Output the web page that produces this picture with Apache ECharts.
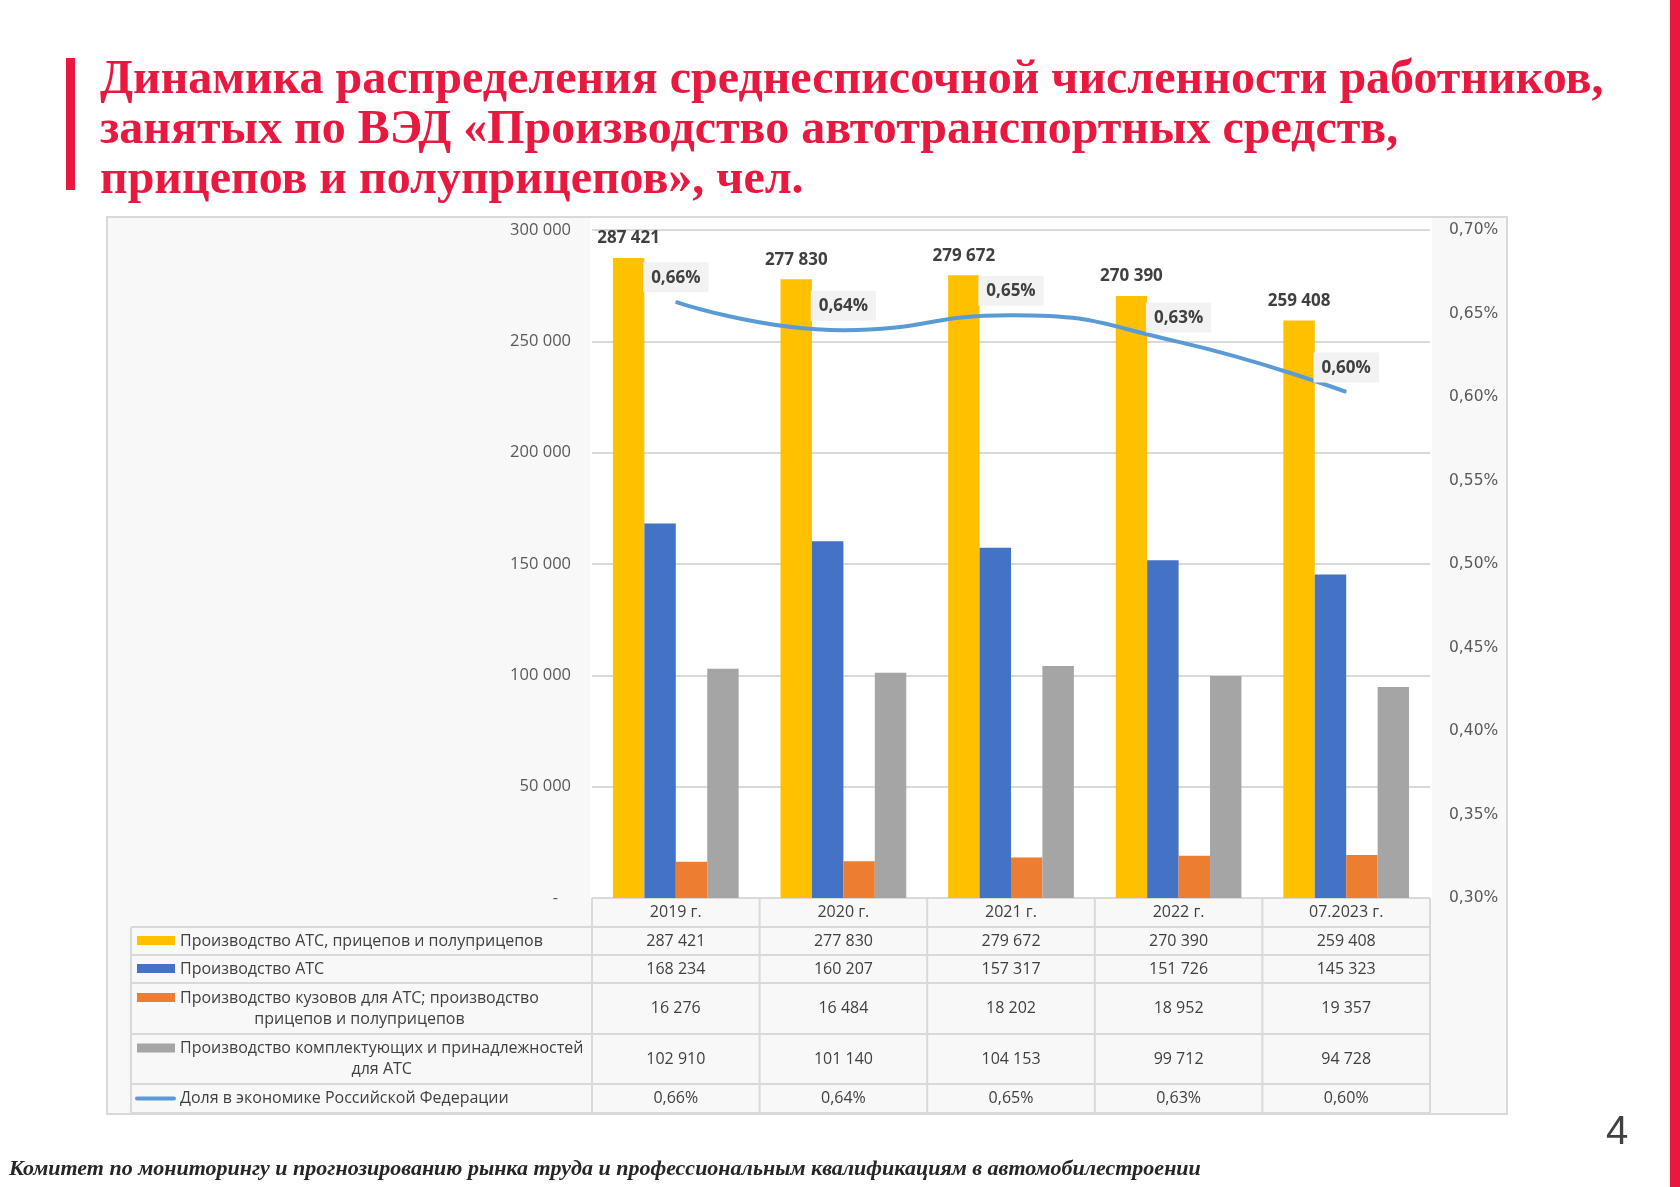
<!DOCTYPE html>
<html>
<head>
<meta charset="utf-8">
<script src="https://cdn.jsdelivr.net/npm/echarts@6/dist/echarts.min.js"></script>
<style>
html,body{margin:0;padding:0;background:#fff;}
#main{width:1680px;height:1187px;}
</style>
</head>
<body>
<div id="main"></div>
<script>
// ---------- DATA ----------
const categories = ['2019 г.', '2020 г.', '2021 г.', '2022 г.', '07.2023 г.'];
const nameTotal = 'Производство АТС, прицепов и полуприцепов';
const nameAts = 'Производство АТС';
const nameBodies = 'Производство кузовов для АТС; производство\nприцепов и полуприцепов';
const nameParts = 'Производство комплектующих и принадлежностей\nдля АТС';
const nameShare = 'Доля в экономике Российской Федерации';
const totalValues = [287421, 277830, 279672, 270390, 259408];
const atsValues = [168234, 160207, 157317, 151726, 145323];
const bodiesValues = [16276, 16484, 18202, 18952, 19357];
const partsValues = [102910, 101140, 104153, 99712, 94728];
const shareValues = [0.657, 0.640, 0.649, 0.633, 0.603]; // % of economy
const titleText = 'Динамика распределения среднесписочной численности работников,\nзанятых по ВЭД «Производство автотранспортных средств,\nприцепов и полуприцепов», чел.';
const footerText = 'Комитет по мониторингу и прогнозированию рынка труда и профессиональным квалификациям в автомобилестроении';
const pageNumber = '4';

// ---------- LAYOUT ----------
const RED = '#E8183F';
const TXT = '#404040';
const GRID_L = 592, GRID_R = 1430, GRID_T = 230, GRID_B = 898;
const colW = (GRID_R - GRID_L) / categories.length;
const rowLines = [898, 927, 955, 983, 1034, 1084, 1113];
const tableLeft = 131;
const COLORS = {total:'#FFC000', ats:'#4472C4', bodies:'#ED7D31', parts:'#A5A5A5', share:'#5B9BD5'};

function fmtNum(v){ return String(v).replace(/\B(?=(\d{3})+(?!\d))/g, ' '); }
function fmtPct(v){ return v.toFixed(2).replace('.', ',') + '%'; }

const measureCtx = document.createElement('canvas').getContext('2d');
function textW(t, font){ measureCtx.font = font; return measureCtx.measureText(t).width; }

const tableFont = '16px "Open Sans"';
const rows = [
  {name: nameTotal, key: 'rect', color: COLORS.total, vals: totalValues.map(fmtNum)},
  {name: nameAts, key: 'rect', color: COLORS.ats, vals: atsValues.map(fmtNum)},
  {name: nameBodies, key: 'rect', color: COLORS.bodies, vals: bodiesValues.map(fmtNum)},
  {name: nameParts, key: 'rect', color: COLORS.parts, vals: partsValues.map(fmtNum)},
  {name: nameShare, key: 'line', color: COLORS.share, vals: shareValues.map(fmtPct)}
];

const graphics = [];
// frame
graphics.push({type:'rect', z:-10, shape:{x:107, y:217, width:1400, height:897}, style:{fill:'#F8F8F8', stroke:'#D9D9D9', lineWidth:2}});
// white plot background
graphics.push({type:'rect', z:-9, shape:{x:590, y:218, width:842, height:GRID_B-218}, style:{fill:'#FFFFFF'}});
// red bars
graphics.push({type:'rect', shape:{x:66, y:58, width:9, height:132}, style:{fill:RED}});
graphics.push({type:'rect', shape:{x:1670, y:0, width:10, height:1187}, style:{fill:RED}});
// title
graphics.push({type:'text', left:100, top:56, style:{text:titleText, fill:RED, font:'bold 48px "Liberation Serif"', lineHeight:50}});
// footer
graphics.push({type:'text', left:9, top:1158, style:{text:footerText, fill:'#262626', font:'italic bold 22px "Liberation Serif"'}});
// page number
graphics.push({type:'text', left:1606, top:1113, style:{text:pageNumber, fill:TXT, font:'40px "Liberation Sans"'}});

// table lines
const lineStyle = {stroke:'#D9D9D9', lineWidth:2};
graphics.push({type:'line', shape:{x1:GRID_L, y1:rowLines[0], x2:GRID_R, y2:rowLines[0]}, style:lineStyle});
for (let r = 1; r < rowLines.length; r++) {
  graphics.push({type:'line', shape:{x1:tableLeft, y1:rowLines[r], x2:GRID_R, y2:rowLines[r]}, style:lineStyle});
}
graphics.push({type:'line', shape:{x1:tableLeft, y1:rowLines[1], x2:tableLeft, y2:rowLines[6]}, style:lineStyle});
for (let c = 0; c <= categories.length; c++) {
  const x = GRID_L + c * colW;
  graphics.push({type:'line', shape:{x1:x, y1:rowLines[0], x2:x, y2:rowLines[6]}, style:lineStyle});
}
// table rows
rows.forEach((row, r) => {
  const y0 = rowLines[r+1], y1 = rowLines[r+2];
  const cy = (y0 + y1) / 2;
  const lines = row.name.split('\n');
  const lh = 21;
  const firstY = cy - (lines.length - 1) * lh / 2;
  const w1 = textW(lines[0], tableFont);
  const textX = 180;
  if (row.key === 'rect') {
    graphics.push({type:'rect', shape:{x:137, y:firstY-5, width:38, height:9}, style:{fill:row.color}});
  } else {
    graphics.push({type:'line', shape:{x1:137, y1:firstY, x2:174, y2:firstY}, style:{stroke:row.color, lineWidth:4, lineCap:'round'}});
  }
  lines.forEach((ln, i) => {
    if (i === 0) {
      graphics.push({type:'text', style:{text:ln, x:textX, y:firstY, font:tableFont, fill:TXT, align:'left', verticalAlign:'middle'}});
    } else {
      graphics.push({type:'text', style:{text:ln, x:textX + w1/2, y:firstY + i*lh, font:tableFont, fill:TXT, align:'center', verticalAlign:'middle'}});
    }
  });
  row.vals.forEach((v, c) => {
    graphics.push({type:'text', style:{text:v, x:GRID_L + (c+0.5)*colW, y:cy, font:tableFont, fill:TXT, align:'center', verticalAlign:'middle'}});
  });
});

const chart = echarts.init(document.getElementById('main'), null, {renderer:'canvas'});
const barBase = {type:'bar', barGap:'0%', barCategoryGap:'25%', yAxisIndex:0};
const option = {
  animation:false,
  textStyle:{fontFamily:'"Open Sans"'},
  grid:{left:GRID_L, right:1680-GRID_R, top:GRID_T, bottom:1187-GRID_B, containLabel:false},
  xAxis:{type:'category', data:categories, axisLine:{show:false}, axisTick:{show:false},
    axisLabel:{show:true, margin:14, verticalAlign:'middle', fontSize:16, color:TXT, fontFamily:'"Open Sans"'}},
  yAxis:[
    {type:'value', min:0, max:300000, interval:50000, position:'left',
      axisLine:{show:false}, axisTick:{show:false},
      splitLine:{show:true, lineStyle:{color:'#D9D9D9', width:2}},
      axisLabel:{margin:21, fontSize:16.5, color:'#595959', fontFamily:'"Open Sans"',
        formatter: v => v === 0 ? '-   ' : fmtNum(v)}},
    {type:'value', min:0.3, max:0.7, interval:0.05, position:'right',
      axisLine:{show:false}, axisTick:{show:false}, splitLine:{show:false},
      axisLabel:{margin:19, fontSize:15.5, color:'#595959', fontFamily:'"DejaVu Sans"',
        formatter: v => fmtPct(v)}}
  ],
  series:[
    Object.assign({}, barBase, {name:nameTotal, data:totalValues, itemStyle:{color:COLORS.total},
      label:{show:true, position:'top', distance:11, formatter:p => fmtNum(p.value), fontSize:17, fontWeight:'bold', color:TXT, fontFamily:'"Open Sans"'}}),
    Object.assign({}, barBase, {name:nameAts, data:atsValues, itemStyle:{color:COLORS.ats}}),
    Object.assign({}, barBase, {name:nameBodies, data:bodiesValues, itemStyle:{color:COLORS.bodies}}),
    Object.assign({}, barBase, {name:nameParts, data:partsValues, itemStyle:{color:COLORS.parts}}),
    {type:'line', name:nameShare, yAxisIndex:1, data:shareValues, smooth:0.5, z:5,
      symbol:'circle', symbolSize:1, itemStyle:{color:COLORS.share},
      lineStyle:{color:COLORS.share, width:4},
      label:{show:true, position:'top', distance:9, formatter:p => fmtPct(p.value), fontSize:17, fontWeight:'bold', color:TXT,
        fontFamily:'"Open Sans"', backgroundColor:'#F2F2F2', padding:[7,8,6,8]}}
  ],
  graphic:{elements:graphics}
};
chart.setOption(option);
</script>
</body>
</html>
